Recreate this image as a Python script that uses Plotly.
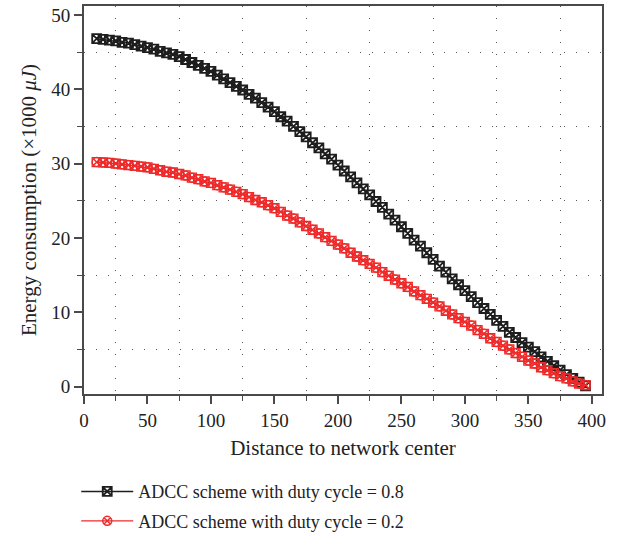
import plotly.graph_objects as go

# Distance to network center (sampling positions of both curves)
distance = list(range(10, 400, 5))

# Energy consumption (x1000 uJ), duty cycle = 0.8
energy_dc08 = [
    46.8, 46.7, 46.6, 46.5, 46.3, 46.2, 46.0, 45.8, 45.6, 45.4,
    45.1, 44.9, 44.7, 44.4, 44.0, 43.6, 43.2, 42.8, 42.4, 41.9,
    41.4, 40.9, 40.4, 39.9, 39.3, 38.8, 38.2, 37.6, 37.0, 36.3,
    35.7, 35.0, 34.3, 33.6, 32.8, 32.1, 31.3, 30.6, 29.8, 29.0,
    28.2, 27.4, 26.6, 25.8, 24.9, 24.1, 23.2, 22.4, 21.5, 20.6,
    19.7, 18.9, 18.0, 17.1, 16.2, 15.4, 14.5, 13.7, 12.9, 12.1,
    11.3, 10.5, 9.7, 8.9, 8.1, 7.3, 6.6, 5.9, 5.3, 4.7,
    4.0, 3.4, 2.8, 2.2, 1.6, 1.1, 0.6, 0.1,
]

# Energy consumption (x1000 uJ), duty cycle = 0.2
energy_dc02 = [
    30.2, 30.15, 30.1, 30.0, 29.9, 29.8, 29.7, 29.6, 29.5, 29.3,
    29.1, 28.9, 28.8, 28.6, 28.4, 28.1, 27.9, 27.6, 27.4, 27.1,
    26.8, 26.5, 26.2, 25.9, 25.5, 25.1, 24.8, 24.4, 24.0, 23.5,
    23.0, 22.6, 22.1, 21.6, 21.1, 20.6, 20.1, 19.6, 19.1, 18.6,
    18.0, 17.5, 17.0, 16.5, 16.0, 15.4, 14.9, 14.4, 13.9, 13.4,
    12.8, 12.3, 11.8, 11.3, 10.8, 10.2, 9.7, 9.2, 8.7, 8.2,
    7.6, 7.1, 6.5, 6.0, 5.5, 5.0, 4.5, 4.0, 3.5, 3.1,
    2.6, 2.2, 1.8, 1.4, 1.1, 0.7, 0.4, 0.2,
]

series_names = [
    "ADCC scheme with duty cycle = 0.8",
    "ADCC scheme with duty cycle = 0.2",
]

x_ticks = [0, 50, 100, 150, 200, 250, 300, 350, 400]
x_minor = [25, 75, 125, 175, 225, 275, 325, 375]
y_ticks = [0, 10, 20, 30, 40, 50]
y_minor = [5, 15, 25, 35, 45]

FONT = "Liberation Serif"
TEXT = "#222222"
AXIS = "#4a4a4a"
BLACK = "#1e1e1e"
RED = "#ee2a2a"
TICK_SIZE = 19
TITLE_SIZE = 21

fig = go.Figure()

fig.add_trace(go.Scatter(
    x=distance, y=energy_dc08, name=series_names[0],
    mode="lines+markers", legendgroup="a",
    line=dict(color=BLACK, width=1.4),
    marker=dict(symbol="square-x-open", size=9, color=BLACK,
                line=dict(width=1.8, color=BLACK)),
))

# square outline behind the crossed circles of the second series
fig.add_trace(go.Scatter(
    x=distance, y=energy_dc02, mode="markers", showlegend=False,
    legendgroup="b", hoverinfo="skip",
    marker=dict(symbol="square-open", size=9, color=RED,
                line=dict(width=1.3, color=RED)),
))
fig.add_trace(go.Scatter(
    x=distance, y=energy_dc02, name=series_names[1],
    mode="lines+markers", legendgroup="b",
    line=dict(color=RED, width=1.4),
    marker=dict(symbol="circle-x-open", size=9, color=RED,
                line=dict(width=1.5, color=RED)),
))

fig.update_layout(
    width=624, height=539,
    margin=dict(l=84, r=22, t=4, b=145),
    paper_bgcolor="white", plot_bgcolor="white",
    font=dict(family=FONT, size=18, color=TEXT),
    showlegend=True,
    legend=dict(
        x=-0.015, y=0.122, xref="paper", yref="container",
        xanchor="left", yanchor="top",
        orientation="v", traceorder="grouped", tracegroupgap=3,
        font=dict(family=FONT, size=18, color=TEXT),
        itemwidth=52, bgcolor="rgba(0,0,0,0)",
    ),
)

fig.update_xaxes(
    range=[0, 408],
    tickmode="array", tickvals=x_ticks,
    ticks="outside", ticklen=8, tickwidth=1.5, tickcolor=AXIS,
    showline=True, linewidth=1.8, linecolor=AXIS, mirror=True,
    showgrid=False, zeroline=False,
    tickfont=dict(family=FONT, size=TICK_SIZE, color=TEXT),
    title=dict(text="Distance to network center", standoff=11,
               font=dict(family=FONT, size=TITLE_SIZE, color=TEXT)),
    minor=dict(tickmode="array", tickvals=x_minor,
               ticks="outside", ticklen=5, tickwidth=1.2, tickcolor=AXIS,
               showgrid=True, gridcolor="#555555", gridwidth=1.3,
               griddash="1.3px,10.7px"),
)

fig.update_yaxes(
    range=[-1, 51.2],
    tickmode="array", tickvals=y_ticks,
    ticks="outside", ticklen=8, tickwidth=1.5, tickcolor=AXIS,
    showline=True, linewidth=1.8, linecolor=AXIS, mirror=True,
    showgrid=False, zeroline=False,
    tickfont=dict(family=FONT, size=TICK_SIZE, color=TEXT),
    title=dict(text="Energy consumption (×1000 <i>μJ</i>)", standoff=9,
               font=dict(family=FONT, size=TITLE_SIZE, color=TEXT)),
    minor=dict(tickmode="array", tickvals=y_minor,
               ticks="outside", ticklen=5, tickwidth=1.2, tickcolor=AXIS,
               showgrid=True, gridcolor="#555555", gridwidth=1.3,
               griddash="1.3px,10.7px"),
)

fig.write_html("out.html")
